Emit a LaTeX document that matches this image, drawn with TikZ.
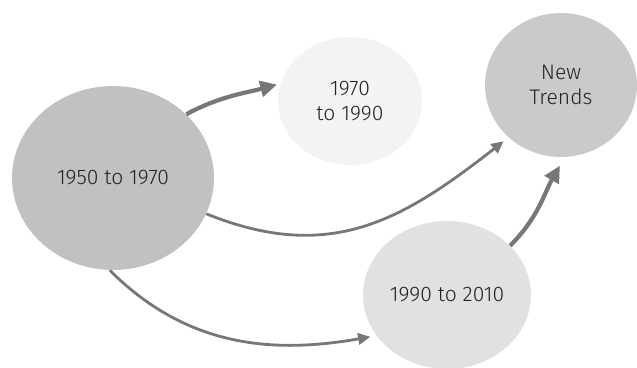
\documentclass[tikz,border=0pt]{standalone}
\usepackage{fontspec}
\setmainfont{Fira Sans Light}
\usetikzlibrary{arrows.meta,shapes.geometric}
\definecolor{EraDark}{HTML}{C0C1C1}
\definecolor{EraPale}{HTML}{F2F3F3}
\definecolor{EraLight}{HTML}{E0E1E1}
\definecolor{EraMid}{HTML}{C9CACA}
\definecolor{EraText}{HTML}{222222}
\definecolor{EraArrow}{HTML}{777777}

\begin{document}
\begin{tikzpicture}[x=0.02cm,y=0.02cm,
  era/.style={ellipse,inner sep=0pt,align=center,text=EraText,
    font=\fontsize{12}{14.5}\selectfont},
  link/.style={-{Triangle[length=7pt,width=6.5pt]},line width=1.6pt,EraArrow},
  bold link/.style={-{Triangle[length=9.5pt,width=9pt]},line width=2.4pt,EraArrow}]
\useasboundingbox (0,0) rectangle (637,368);
% Eras
\node[era,fill=EraDark,minimum width=4.04cm,minimum height=3.68cm] (early) at (113,190) {1950 to 1970};
\node[era,fill=EraPale,minimum width=2.88cm,minimum height=2.56cm] (middle) at (350,267) {1970\\to 1990};
\node[era,fill=EraLight,minimum width=3.36cm,minimum height=2.96cm] (late) at (447,73) {1990 to 2010};
\node[era,fill=EraMid,minimum width=3.04cm,minimum height=2.88cm] (trends) at (561,283) {New\\Trends};
% Links
\draw[bold link,shorten >=2pt] (early.41) to[out=28,in=195] (middle.166);
\draw[link,shorten >=3.5pt] (early.-21) to[out=-22,in=218,looseness=1.1] (trends.225);
\draw[link,shorten >=3.5pt] (early.-92) to[out=-45,in=190] (late.210);
\draw[bold link,shorten >=5.5pt] (late.38) to[out=45,in=240] (trends.-87);
\end{tikzpicture}
\end{document}
